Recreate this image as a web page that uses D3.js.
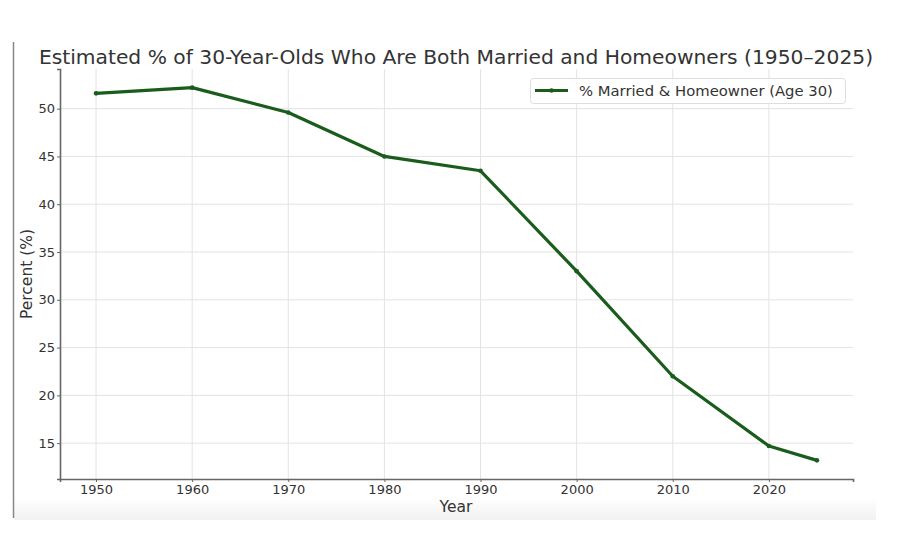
<!DOCTYPE html>
<html><head><meta charset="utf-8">
<script src="https://cdn.jsdelivr.net/npm/d3@7"></script>
<style>body{margin:0;background:#fff}svg{display:block;font-family:"DejaVu Sans",sans-serif}</style>
</head><body><svg id="c" width="907" height="535"></svg>
<script>
const years = [1950, 1960, 1970, 1980, 1990, 2000, 2010, 2020, 2025];
const values = [51.6, 52.2, 49.6, 45.0, 43.5, 33.0, 22.0, 14.7, 13.2];
const xTicks = [1950, 1960, 1970, 1980, 1990, 2000, 2010, 2020];
const yTicks = [15, 20, 25, 30, 35, 40, 45, 50];
const title = "Estimated % of 30-Year-Olds Who Are Both Married and Homeowners (1950\u20132025)";
const seriesName = "% Married & Homeowner (Age 30)";

const svg = d3.select("#c");
const L = 60, R = 853, T = 69, B = 479;
const x = d3.scaleLinear().domain([1946.25, 2028.75]).range([L, R]);
const y = d3.scaleLinear().domain([11.25, 54.15]).range([B, T]);

// background artifacts
const defs = svg.append("defs");
const g1 = defs.append("linearGradient").attr("id","bg").attr("x1",0).attr("y1",0).attr("x2",0).attr("y2",1);
g1.append("stop").attr("offset","0").attr("stop-color","#fff");
g1.append("stop").attr("offset","1").attr("stop-color","#f1f1f1");
svg.append("rect").attr("x",14).attr("y",498).attr("width",862).attr("height",22).attr("fill","url(#bg)");
svg.append("line").attr("x1",13.5).attr("x2",13.5).attr("y1",42).attr("y2",518).attr("stroke","#888").attr("stroke-width",1.5);

// grid
svg.append("g").selectAll("line").data(xTicks).join("line")
  .attr("x1",d=>x(d)).attr("x2",d=>x(d)).attr("y1",T).attr("y2",B)
  .attr("stroke","#e3e3e3").attr("stroke-width",1);
svg.append("g").selectAll("line").data(yTicks).join("line")
  .attr("x1",L).attr("x2",R).attr("y1",d=>y(d)).attr("y2",d=>y(d))
  .attr("stroke","#e3e3e3").attr("stroke-width",1);

// axes
const xa = svg.append("g").attr("transform",`translate(0,${B})`)
  .call(d3.axisBottom(x).tickValues(xTicks).tickFormat(d3.format("d")).tickSizeOuter(0).tickSize(3).tickPadding(3));
const ya = svg.append("g").attr("transform",`translate(${L},0)`)
  .call(d3.axisLeft(y).tickValues(yTicks).tickSizeOuter(0).tickSize(3).tickPadding(2));
[xa, ya].forEach(a=>{
  a.select(".domain").attr("stroke","#666").attr("stroke-width",1.6);
  a.selectAll(".tick line").attr("stroke","#666");
  a.selectAll("text").attr("fill","#333").attr("font-size",13).attr("font-family","DejaVu Sans");
});

// line
const line = d3.line().x((d,i)=>x(years[i])).y(d=>y(d));
svg.append("path").datum(values).attr("d",line).attr("fill","none")
  .attr("stroke","#1a5c1c").attr("stroke-width",3.2).attr("stroke-linejoin","round");
svg.append("g").selectAll("circle").data(values).join("circle")
  .attr("cx",(d,i)=>x(years[i])).attr("cy",d=>y(d)).attr("r",2.3).attr("fill","#1a5c1c");

// title & labels
svg.append("text").attr("x",456).attr("y",63.5).attr("text-anchor","middle")
  .attr("font-size",20.25).attr("fill","#333").text(title);
svg.append("text").attr("x",456).attr("y",512).attr("text-anchor","middle")
  .attr("font-size",15.5).attr("fill","#333").text("Year");
svg.append("text").attr("transform","translate(32,274) rotate(-90)").attr("text-anchor","middle")
  .attr("font-size",15.5).attr("fill","#333").text("Percent (%)");

// legend
svg.append("rect").attr("x",530.5).attr("y",78.5).attr("width",315).attr("height",25).attr("rx",3)
  .attr("fill","#fff").attr("fill-opacity",0.85).attr("stroke","#ddd");
svg.append("line").attr("x1",535).attr("x2",568).attr("y1",90.5).attr("y2",90.5)
  .attr("stroke","#1a5c1c").attr("stroke-width",3.2);
svg.append("circle").attr("cx",551.5).attr("cy",90.5).attr("r",2.3).attr("fill","#1a5c1c");
svg.append("text").attr("x",579).attr("y",95.5).attr("font-size",14.8).attr("fill","#333").text(seriesName);
</script></body></html>
